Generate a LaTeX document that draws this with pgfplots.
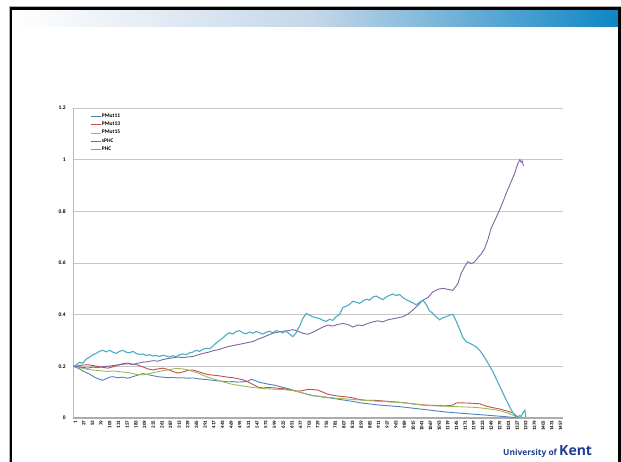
\documentclass[border=0pt]{standalone}
\usepackage{pgfplots}
\pgfplotsset{compat=1.18}
\usepackage{fontspec}
\setmainfont{Carlito}
\newfontfamily\kentfont{Open Sans}
\definecolor{c11}{RGB}{79,129,189}
\definecolor{c13}{RGB}{192,80,77}
\definecolor{c15}{RGB}{155,187,89}
\definecolor{csphc}{RGB}{128,100,162}
\definecolor{cphc}{RGB}{75,172,198}
\definecolor{kentblue}{RGB}{14,134,196}
\definecolor{kentmid}{RGB}{196,214,232}
\definecolor{kenttext}{RGB}{30,62,145}
\begin{document}
\begin{tikzpicture}
\path[use as bounding box] (0pt,0pt) rectangle (621pt,462pt);
% slide header gradient
\shade[left color=white, right color=kentblue, middle color=kentmid] (12.5pt,435pt) rectangle (618pt,452pt);
% slide border
\draw[gray!60, line width=0.6pt] (9pt,-5pt) -- (9pt,455.5pt) -- (621pt,455.5pt);
\draw[black, line width=2.5pt] (11pt,-5pt) -- (11pt,453.5pt) -- (619.5pt,453.5pt) -- (619.5pt,-5pt);
% logo
\node[anchor=base west, inner sep=0pt, text=kenttext, font=\kentfont\bfseries\fontsize{8.4}{9}\selectfont] at (503pt,6pt) {University of};
\node[anchor=base west, inner sep=0pt, text=kenttext, font=\kentfont\bfseries\fontsize{14}{14}\selectfont] at (559pt,6pt) {Kent};
\begin{axis}[
  at={(73pt,44pt)}, anchor=south west,
  scale only axis, width=490pt, height=310pt,
  xmin=0.5, xmax=1470.5, ymin=0, ymax=1.2,
  axis x line=bottom, axis y line=left,
  x axis line style={-, draw=gray!65, line width=1.6pt},
  y axis line style={-, draw=gray!55, line width=0.8pt},
  ytick={0,0.2,0.4,0.6,0.8,1,1.2},
  yticklabels={0,0.2,0.4,0.6,0.8,1,1.2},
  xtick={1,27,...,1457},
  xticklabels={1,27,53,79,105,131,157,183,209,235,261,287,313,339,365,391,417,443,469,495,521,547,573,599,625,651,677,703,729,755,781,807,833,859,885,911,937,963,989,1015,1041,1067,1093,1119,1145,1171,1197,1223,1249,1275,1301,1327,1353,1379,1405,1431,1457},
  tick style={draw=none},
  ymajorgrids, grid style={gray!45, line width=0.6pt},
  yticklabel style={font=\bfseries\fontsize{5.5}{6}\selectfont, inner sep=1pt, xshift=-4pt},
  xticklabel style={rotate=90, anchor=east, font=\bfseries\fontsize{5}{5}\selectfont, inner sep=0.5pt, yshift=-2pt},
  legend style={at={(0.035,0.985)}, anchor=north west, draw=none, fill=none,
    font=\bfseries\fontsize{5.5}{6}\selectfont, row sep=1.2pt, inner sep=0pt, nodes={inner sep=1pt}},
  legend cell align=left,
  legend image code/.code={\draw[#1, line width=0.6pt] (0pt,0pt) -- (10pt,0pt);},
  every axis plot/.append style={line width=0.9pt, mark=none},
]
\addplot[c11] coordinates {
(1,0.200)(10,0.196)(20,0.190)(30,0.182)(40,0.176)(50,0.170)(60,0.162)(70,0.155)(80,0.150)(90,0.146)
(100,0.152)(110,0.158)(120,0.160)(135,0.156)(150,0.158)(165,0.154)(180,0.160)(195,0.166)(210,0.172)
(225,0.168)(240,0.164)(255,0.160)(270,0.158)(285,0.156)(300,0.157)(315,0.155)(330,0.156)(345,0.154)
(360,0.155)(375,0.152)(390,0.150)(405,0.148)(420,0.146)(435,0.144)(450,0.142)(465,0.140)(480,0.141)
(495,0.139)(510,0.140)(525,0.142)(535,0.150)(545,0.146)(560,0.138)(575,0.134)(590,0.130)(605,0.127)
(620,0.122)(635,0.117)(650,0.112)(665,0.106)(680,0.100)(695,0.095)(710,0.090)(725,0.086)(740,0.083)
(755,0.080)(770,0.078)(785,0.075)(800,0.072)(815,0.069)(830,0.066)(845,0.063)(860,0.059)(880,0.056)
(900,0.053)(920,0.050)(940,0.048)(960,0.046)(980,0.044)(1000,0.041)(1020,0.038)(1040,0.035)(1060,0.032)
(1080,0.029)(1100,0.026)(1120,0.023)(1140,0.021)(1160,0.019)(1180,0.017)(1200,0.015)(1220,0.013)
(1240,0.011)(1260,0.009)(1280,0.007)(1300,0.005)(1320,0.002)(1335,0.000)
};
\addlegendentry{PMut11}
\addplot[c13] coordinates {
(1,0.200)(15,0.202)(30,0.205)(45,0.206)(60,0.203)(75,0.200)(90,0.196)(105,0.193)(120,0.198)(135,0.205)
(150,0.210)(165,0.213)(180,0.208)(195,0.205)(210,0.198)(225,0.190)(240,0.186)(255,0.190)(270,0.193)
(285,0.188)(300,0.180)(315,0.174)(330,0.178)(345,0.184)(360,0.186)(375,0.180)(390,0.174)(405,0.168)
(420,0.166)(435,0.164)(450,0.161)(465,0.158)(480,0.156)(495,0.152)(510,0.148)(525,0.140)(540,0.130)
(555,0.120)(570,0.116)(585,0.118)(600,0.117)(615,0.115)(630,0.114)(645,0.110)(660,0.107)(675,0.104)
(690,0.106)(705,0.111)(720,0.110)(735,0.108)(750,0.100)(765,0.092)(780,0.088)(795,0.085)(810,0.083)
(825,0.081)(840,0.078)(855,0.073)(870,0.070)(885,0.068)(900,0.069)(920,0.067)(940,0.065)(960,0.063)
(980,0.061)(1000,0.058)(1020,0.055)(1040,0.052)(1060,0.050)(1080,0.049)(1100,0.048)(1120,0.047)
(1140,0.050)(1150,0.058)(1160,0.059)(1180,0.058)(1200,0.057)(1220,0.055)(1240,0.046)(1260,0.040)
(1280,0.035)(1300,0.028)(1320,0.020)(1335,0.004)
};
\addlegendentry{PMut13}
\addplot[c15] coordinates {
(1,0.200)(15,0.196)(30,0.192)(45,0.188)(60,0.186)(75,0.184)(90,0.182)(105,0.180)(120,0.182)(135,0.180)
(150,0.178)(165,0.176)(180,0.172)(195,0.168)(210,0.167)(225,0.170)(240,0.175)(255,0.179)(270,0.183)
(285,0.186)(300,0.190)(315,0.192)(330,0.190)(345,0.186)(360,0.180)(375,0.174)(390,0.166)(405,0.158)
(420,0.152)(435,0.146)(450,0.140)(465,0.135)(480,0.130)(495,0.127)(510,0.124)(525,0.121)(540,0.118)
(555,0.116)(570,0.114)(585,0.113)(600,0.112)(615,0.111)(630,0.110)(645,0.108)(660,0.106)(675,0.102)
(690,0.097)(705,0.090)(720,0.086)(735,0.085)(750,0.083)(765,0.080)(780,0.078)(795,0.076)(810,0.075)
(825,0.073)(840,0.072)(855,0.070)(870,0.069)(890,0.067)(910,0.065)(930,0.064)(950,0.062)(970,0.061)
(990,0.059)(1010,0.056)(1030,0.053)(1050,0.050)(1070,0.048)(1090,0.047)(1110,0.046)(1130,0.045)
(1150,0.044)(1170,0.043)(1190,0.042)(1210,0.041)(1230,0.038)(1250,0.035)(1270,0.031)(1290,0.025)
(1310,0.017)(1325,0.008)(1335,0.000)
};
\addlegendentry{PMut15}
\addplot[csphc] coordinates {
(1,0.200)(15,0.198)(30,0.196)(45,0.193)(60,0.197)(75,0.195)(90,0.199)(105,0.200)(120,0.203)(135,0.205)
(150,0.208)(165,0.210)(180,0.207)(195,0.212)(210,0.216)(225,0.218)(240,0.222)(255,0.220)(270,0.226)
(285,0.230)(300,0.233)(315,0.236)(330,0.234)(345,0.236)(360,0.238)(375,0.244)(390,0.250)(405,0.254)
(420,0.260)(435,0.264)(450,0.270)(465,0.276)(480,0.280)(495,0.284)(510,0.288)(525,0.292)(540,0.296)
(555,0.305)(570,0.312)(585,0.320)(600,0.328)(615,0.332)(630,0.336)(645,0.338)(660,0.342)(675,0.336)
(690,0.328)(705,0.324)(720,0.332)(735,0.342)(750,0.352)(765,0.360)(780,0.356)(795,0.362)(810,0.366)
(825,0.362)(840,0.352)(855,0.360)(870,0.358)(885,0.366)(900,0.372)(915,0.376)(930,0.372)(945,0.380)
(960,0.384)(975,0.388)(990,0.392)(1005,0.402)(1020,0.418)(1035,0.436)(1050,0.456)(1065,0.466)
(1080,0.488)(1095,0.498)(1110,0.502)(1125,0.498)(1140,0.494)(1155,0.520)(1165,0.560)(1175,0.585)
(1185,0.605)(1195,0.598)(1205,0.604)(1215,0.620)(1225,0.635)(1235,0.655)(1245,0.690)(1255,0.735)
(1265,0.762)(1275,0.790)(1285,0.820)(1295,0.852)(1305,0.885)(1315,0.915)(1325,0.945)(1335,0.985)
(1341,1.000)(1345,0.990)(1348,0.995)(1352,0.975)
};
\addlegendentry{sPHC}
\addplot[cphc, line width=1.1pt] coordinates {
(1,0.200)(10,0.205)(20,0.215)(30,0.212)(40,0.228)(50,0.235)(60,0.245)(70,0.250)(80,0.258)(90,0.262)
(100,0.256)(110,0.262)(120,0.255)(130,0.250)(140,0.258)(150,0.262)(160,0.255)(170,0.252)(180,0.258)
(190,0.250)(200,0.246)(210,0.248)(220,0.242)(230,0.245)(240,0.240)(250,0.242)(260,0.238)(270,0.243)
(280,0.240)(290,0.236)(300,0.241)(310,0.238)(320,0.244)(330,0.248)(340,0.245)(350,0.252)(360,0.255)
(370,0.262)(380,0.258)(390,0.266)(400,0.270)(410,0.268)(420,0.278)(430,0.290)(440,0.300)(450,0.310)
(460,0.322)(470,0.330)(480,0.325)(490,0.335)(500,0.338)(510,0.330)(520,0.326)(530,0.333)(540,0.328)
(550,0.335)(560,0.330)(570,0.325)(580,0.332)(590,0.336)(600,0.330)(610,0.338)(620,0.335)(630,0.330)
(640,0.336)(650,0.325)(660,0.315)(670,0.330)(680,0.355)(690,0.385)(700,0.405)(710,0.398)(720,0.392)
(730,0.388)(740,0.385)(750,0.378)(760,0.374)(770,0.382)(780,0.378)(790,0.392)(800,0.400)(810,0.428)
(820,0.432)(830,0.440)(840,0.452)(850,0.448)(860,0.444)(870,0.452)(880,0.460)(890,0.456)(900,0.468)
(910,0.472)(920,0.465)(930,0.458)(940,0.468)(950,0.475)(960,0.480)(970,0.474)(980,0.478)(990,0.466)
(1000,0.458)(1010,0.452)(1020,0.446)(1030,0.438)(1040,0.448)(1050,0.456)(1060,0.440)(1070,0.415)
(1080,0.405)(1090,0.392)(1100,0.380)(1110,0.388)(1120,0.392)(1130,0.398)(1140,0.402)(1150,0.375)
(1160,0.345)(1170,0.312)(1180,0.295)(1190,0.290)(1200,0.283)(1210,0.275)(1220,0.263)(1230,0.245)
(1240,0.225)(1250,0.202)(1260,0.180)(1270,0.152)(1280,0.125)(1290,0.098)(1300,0.070)(1310,0.045)
(1320,0.020)(1330,0.004)(1335,0.000)(1340,0.010)(1345,0.006)(1350,0.020)(1356,0.030)(1359,0.002)
};
\addlegendentry{PHC}
\end{axis}
\end{tikzpicture}
\end{document}
